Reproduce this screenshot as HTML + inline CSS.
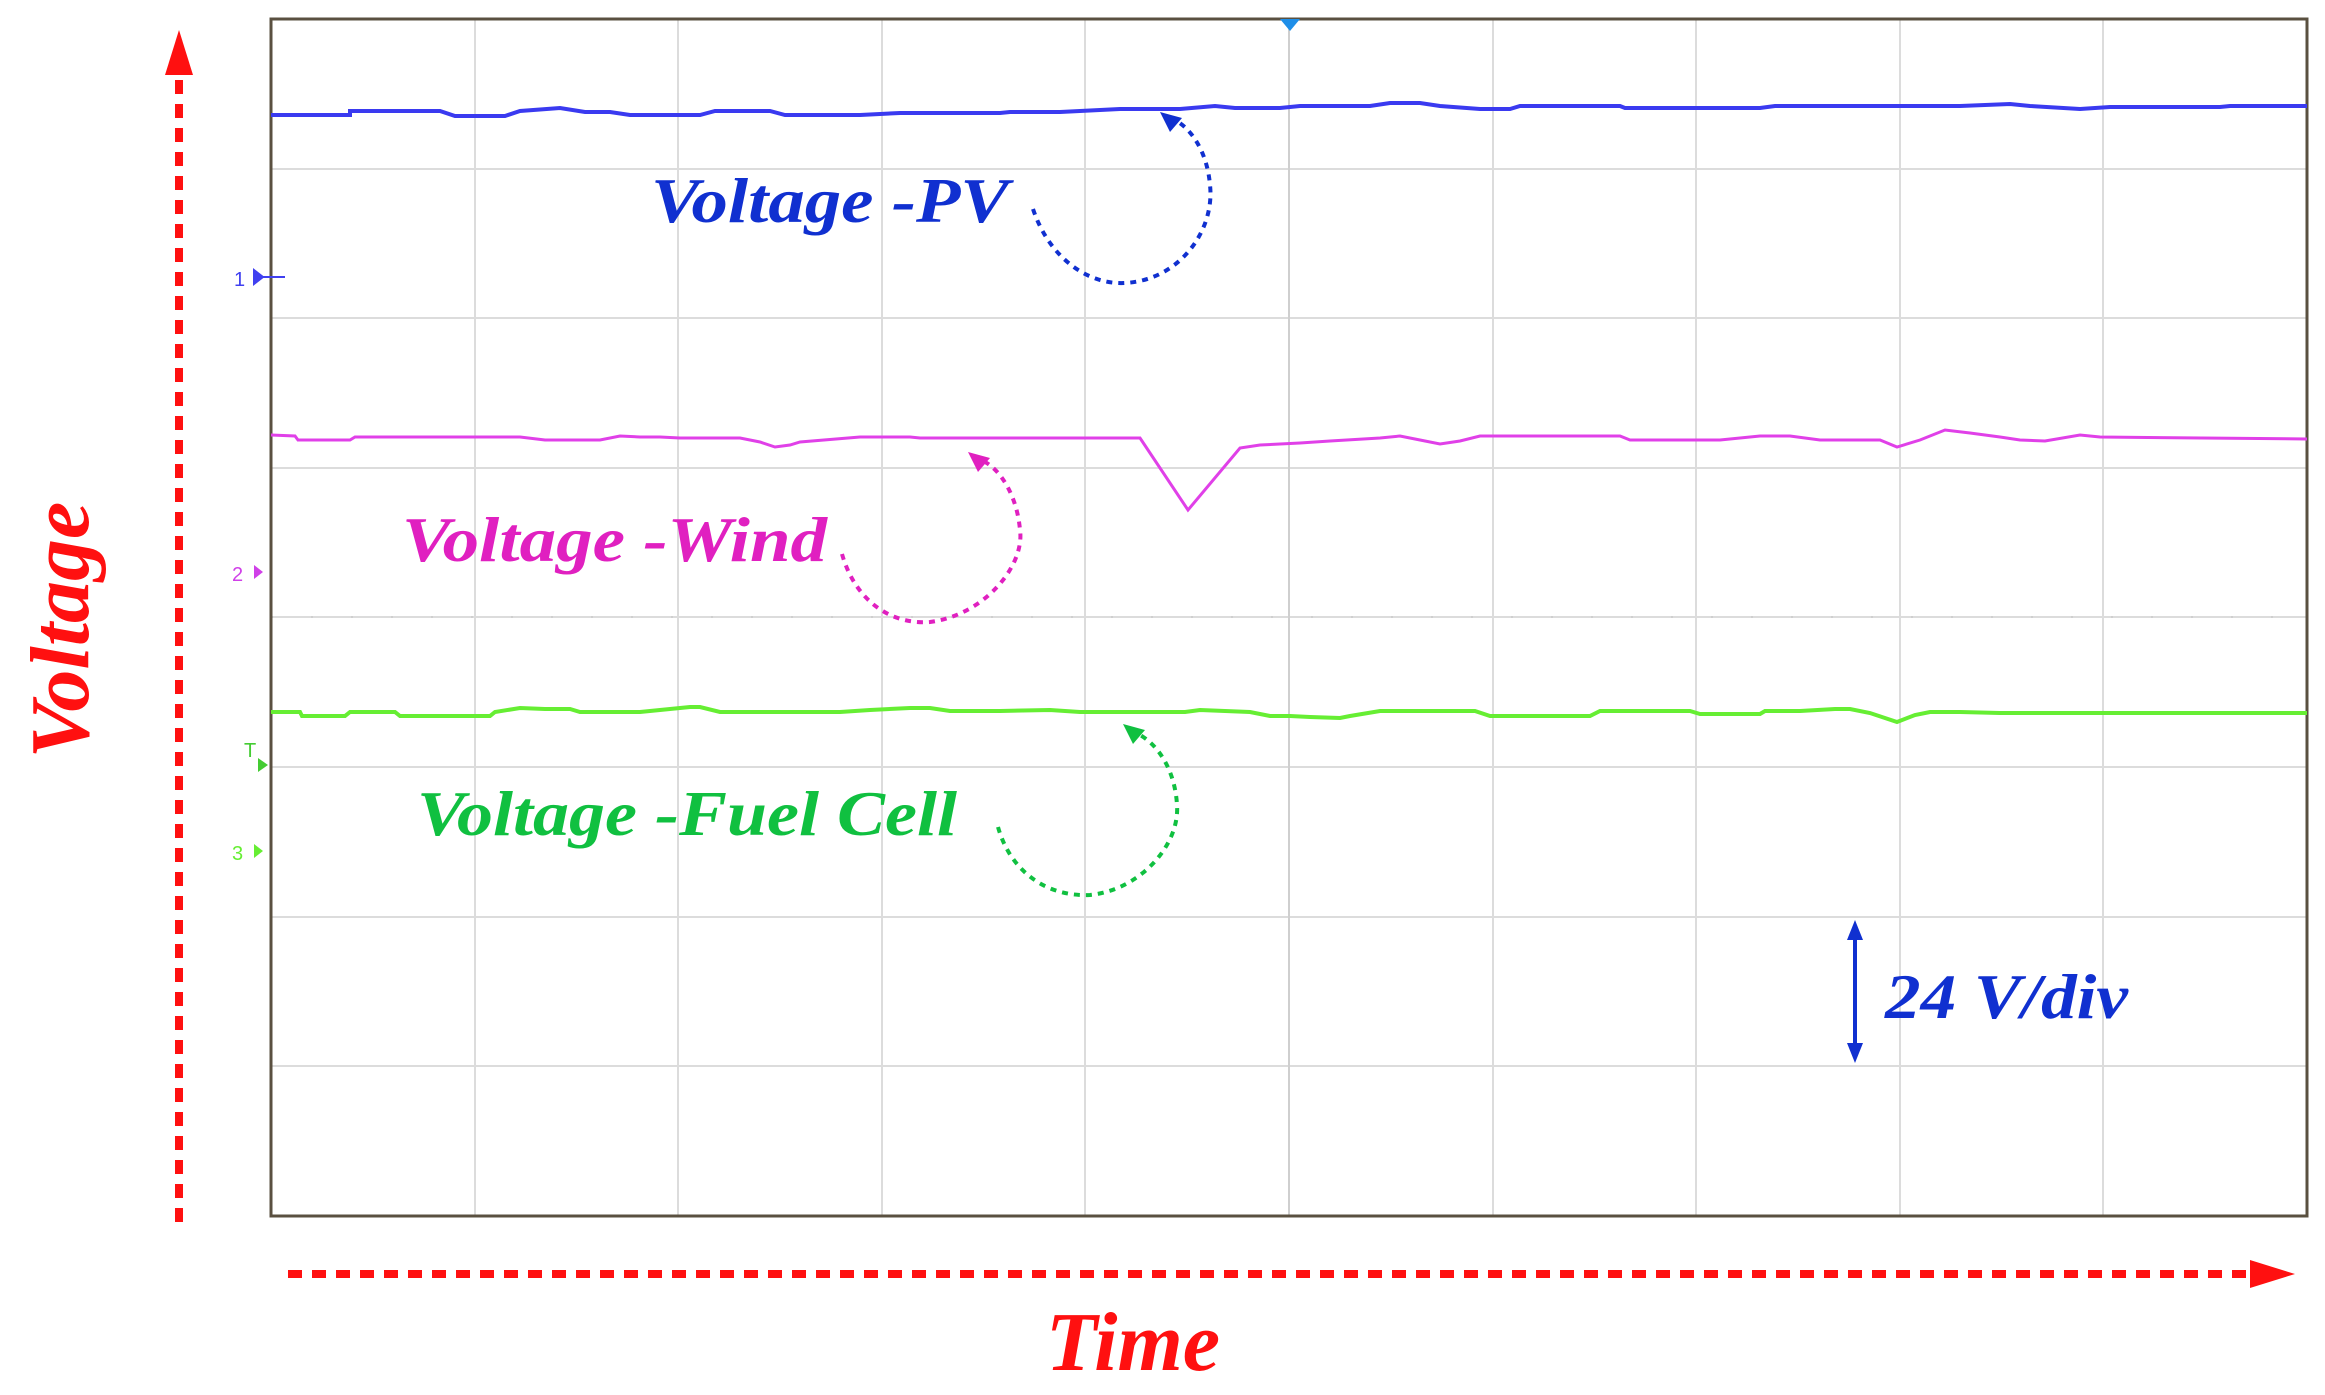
<!DOCTYPE html>
<html><head><meta charset="utf-8"><style>
html,body{margin:0;padding:0;background:#fff;}
svg{display:block;}
</style></head><body>
<svg width="2325" height="1395" viewBox="0 0 2325 1395" xmlns="http://www.w3.org/2000/svg">
<defs>
<marker id="ar" markerWidth="6" markerHeight="6" refX="3" refY="3" orient="auto" markerUnits="strokeWidth"><path d="M0,0 L6,3 L0,6 z" fill="context-stroke"/></marker>
</defs>
<!-- grid -->
<g stroke="#dcdcdc" stroke-width="2">
<line x1="475" y1="19" x2="475" y2="1216"/><line x1="678" y1="19" x2="678" y2="1216"/>
<line x1="882" y1="19" x2="882" y2="1216"/><line x1="1085" y1="19" x2="1085" y2="1216"/>
<line x1="1289" y1="19" x2="1289" y2="1216"/><line x1="1493" y1="19" x2="1493" y2="1216"/>
<line x1="1696" y1="19" x2="1696" y2="1216"/><line x1="1900" y1="19" x2="1900" y2="1216"/>
<line x1="2103" y1="19" x2="2103" y2="1216"/>
<line x1="271" y1="169" x2="2307" y2="169"/><line x1="271" y1="318" x2="2307" y2="318"/>
<line x1="271" y1="468" x2="2307" y2="468"/><line x1="271" y1="617" x2="2307" y2="617"/>
<line x1="271" y1="767" x2="2307" y2="767"/><line x1="271" y1="917" x2="2307" y2="917"/>
<line x1="271" y1="1066" x2="2307" y2="1066"/>
</g>
<g stroke="#cfcfcf" stroke-width="2" stroke-dasharray="2,38">
<line x1="1289" y1="19" x2="1289" y2="1216" stroke-dasharray="0"/>
<line x1="271" y1="617" x2="2307" y2="617"/>
</g>
<rect x="271" y="19" width="2036" height="1197" fill="none" stroke="#5a5040" stroke-width="3"/>
<path d="M1280,19 L1300,19 L1290,31 z" fill="#1e8ee8"/>
<!-- traces -->
<polyline fill="none" stroke="#3a3af0" stroke-width="4" points="271,115 350,115 350,111 440,111 455,116 505,116 520,111 560,108 585,112 610,112 630,115 700,115 715,111 770,111 785,115 860,115 880,114 900,113 1000,113 1010,112 1060,112 1120,109 1180,109 1215,106 1235,108 1280,108 1300,106 1370,106 1390,103 1420,103 1440,106 1480,109 1510,109 1520,106 1620,106 1625,108 1760,108 1775,106 1900,106 1960,106 2010,104 2030,106 2080,109 2110,107 2220,107 2230,106 2307,106"/>
<polyline fill="none" stroke="#e040e8" stroke-width="3" points="271,435 295,436 298,440 350,440 355,437 520,437 545,440 600,440 620,436 640,437 660,437 680,438 740,438 760,442 775,447 790,445 800,442 860,437 910,437 920,438 1140,438 1188,510 1240,448 1260,445 1300,443 1330,441 1380,438 1400,436 1420,440 1440,444 1460,441 1480,436 1500,436 1520,436 1620,436 1630,440 1720,440 1760,436 1790,436 1820,440 1880,440 1897,447 1920,440 1945,430 1970,433 2000,437 2020,440 2045,441 2080,435 2100,437 2307,439"/>
<polyline fill="none" stroke="#66ee33" stroke-width="4" points="271,712 300,712 302,716 345,716 350,712 395,712 400,716 490,716 495,712 520,708 545,709 570,709 580,712 640,712 660,710 690,707 700,707 720,712 800,712 840,712 870,710 910,708 930,708 950,711 1000,711 1050,710 1080,712 1140,712 1185,712 1200,710 1250,712 1270,716 1290,716 1310,717 1340,718 1350,716 1380,711 1400,711 1420,711 1475,711 1490,716 1590,716 1600,711 1690,711 1700,714 1760,714 1765,711 1800,711 1835,709 1850,709 1870,713 1897,722 1915,715 1930,712 1960,712 2000,713 2307,713"/>
<!-- channel markers -->
<g font-family="Liberation Sans, sans-serif" font-size="20">
<text x="234" y="286" fill="#4040f0">1</text><path d="M254,270 L263,277 L254,284 z M263,277 L285,277" fill="#4040f0" stroke="#4040f0" stroke-width="2"/>
<text x="232" y="581" fill="#d040e8">2</text><path d="M254,565 L263,572 L254,579 z" fill="#d040e8"/>
<text x="244" y="757" fill="#44cc33">T</text><path d="M258,758 L268,765 L258,772 z" fill="#44cc33"/>
<text x="232" y="860" fill="#66ee33">3</text><path d="M254,844 L263,851 L254,858 z" fill="#66ee33"/>
</g>
<!-- axes arrows -->
<line x1="179" y1="1222" x2="179" y2="70" stroke="#ff1010" stroke-width="8" stroke-dasharray="14,10"/>
<path d="M165,75 L179,30 L193,75 z" fill="#ff1010"/>
<line x1="288" y1="1274" x2="2255" y2="1274" stroke="#ff1010" stroke-width="8" stroke-dasharray="14,10"/>
<path d="M2250,1260 L2295,1274 L2250,1288 z" fill="#ff1010"/>
<text transform="translate(88,630) rotate(-90)" text-anchor="middle" font-family="Liberation Serif, serif" font-weight="bold" font-style="italic" font-size="84" fill="#ff1010">Voltage</text>
<text x="1133" y="1370" text-anchor="middle" font-family="Liberation Serif, serif" font-weight="bold" font-style="italic" font-size="84" fill="#ff1010">Time</text>
<!-- labels -->
<g font-family="Liberation Serif, serif" font-weight="bold" font-style="italic" font-size="64">
<text x="651" y="222" fill="#1030d0" textLength="358" lengthAdjust="spacingAndGlyphs">Voltage -PV</text>
<text x="402" y="561" fill="#e020c0" textLength="425" lengthAdjust="spacingAndGlyphs">Voltage -Wind</text>
<text x="417" y="835" fill="#10c040" textLength="540" lengthAdjust="spacingAndGlyphs">Voltage -Fuel Cell</text>
<text x="1885" y="1018" fill="#1030d0" font-size="64" textLength="243" lengthAdjust="spacingAndGlyphs">24 V/div</text>
</g>
<line x1="1855" y1="935" x2="1855" y2="1048" stroke="#1030d0" stroke-width="4"/>
<path d="M1847,940 L1855,920 L1863,940 z M1847,1043 L1855,1063 L1863,1043 z" fill="#1030d0"/>
<!-- curved dotted arrows -->
<g fill="none" stroke-width="4" stroke-dasharray="6,6">
<path d="M1033,209 C1050,260 1090,285 1125,283 C1180,280 1215,230 1210,185 C1207,150 1190,128 1175,120" stroke="#1030d0"/>
<path d="M842,554 C855,600 890,625 930,622 C985,615 1025,565 1020,530 C1017,495 1000,470 985,462" stroke="#e020c0"/>
<path d="M998,827 C1010,870 1045,897 1090,895 C1140,890 1180,845 1177,805 C1175,770 1158,745 1140,735" stroke="#10c040"/>
</g>
<path d="M1160,112 L1182,118 L1170,132 z" fill="#1030d0"/>
<path d="M968,452 L990,458 L978,472 z" fill="#e020c0"/>
<path d="M1123,724 L1145,730 L1133,744 z" fill="#10c040"/>
</svg>
</body></html>
